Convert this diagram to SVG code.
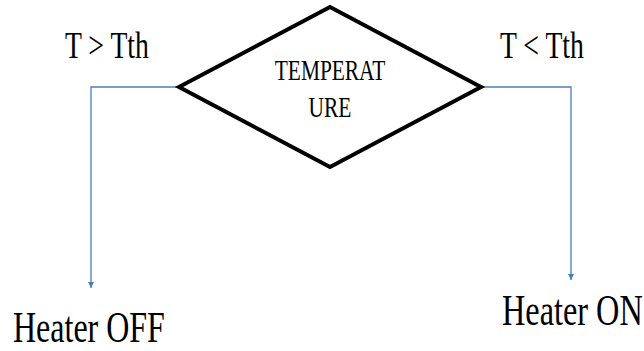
<svg xmlns="http://www.w3.org/2000/svg" width="644" height="351" viewBox="0 0 644 351">
<style>
.t{font-family:"Liberation Serif","Times New Roman",serif;fill:#000}
.c{fill:none;stroke:#4a7ebb;stroke-width:1.3}
</style>
<defs>
<marker id="ah" viewBox="0 0 10 10" refX="10" refY="5" markerWidth="9" markerHeight="6" markerUnits="userSpaceOnUse" orient="auto">
<path d="M0,0 L10,5 L0,10 z" fill="#4a7ebb"/>
</marker>
</defs>
<rect width="644" height="351" fill="#fff"/>
<g id="connectors">
<path class="c" d="M178,87 H91 V288" marker-end="url(#ah)"/>
<path class="c" d="M482,87 H571 V280" marker-end="url(#ah)"/>
</g>
<g id="decision">
<polygon points="330,7 481,87 330,167 179,87" fill="#fff" stroke="#000" stroke-width="4" stroke-linejoin="miter"/>
<text class="t" transform="translate(330,80) scale(1,1.4)" font-size="21.4" text-anchor="middle">TEMPERAT</text>
<text class="t" transform="translate(330,117) scale(1,1.4)" font-size="21.4" text-anchor="middle">URE</text>
</g>
<g id="label-gt">
<text class="t" transform="translate(65,58) scale(1,1.37)" font-size="27.7">T &gt; Tth</text>
</g>
<g id="label-lt">
<text class="t" transform="translate(500,58) scale(1,1.37)" font-size="27.7">T &lt; Tth</text>
</g>
<g id="heater-off">
<text class="t" transform="translate(13,342) scale(1,1.38)" font-size="32">Heater OFF</text>
</g>
<g id="heater-on">
<text class="t" transform="translate(502,325) scale(1,1.4)" font-size="32.3">Heater ON</text>
</g>
</svg>
